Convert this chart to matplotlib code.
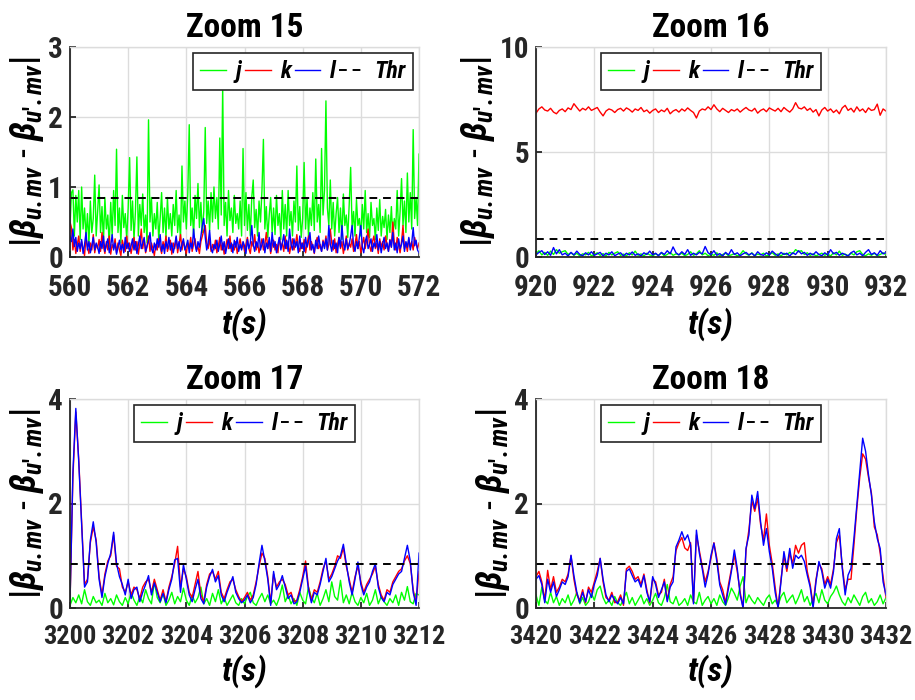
import numpy as np
import matplotlib
matplotlib.use("Agg")
import matplotlib.pyplot as plt
from matplotlib.lines import Line2D

FONT = ["Roboto Condensed", "Archivo Narrow", "DejaVu Sans"]
plt.rcParams["font.family"] = FONT
plt.rcParams["font.weight"] = "bold"
plt.rcParams["mathtext.fontset"] = "custom"
plt.rcParams["mathtext.it"] = "Roboto Condensed:italic:bold"
plt.rcParams["mathtext.rm"] = "Roboto Condensed:bold"
plt.rcParams["mathtext.bf"] = "Roboto Condensed:bold"

GREEN, RED, BLUE = "#00ff00", "#ff0000", "#0000ff"
THR = 0.85

# ---- Zoom 15 : 560-572 s, 0.05 s samples ----
z15_j = [
    0.45, 0.92, 0.96, 0.30, 0.88, 0.50, 0.95, 0.25, 1.00, 0.40, 0.70, 0.28, 0.62, 0.18, 0.80, 0.35, 0.55, 1.17, 0.30, 0.65,
    1.03, 0.35, 0.72, 0.22, 0.85, 0.40, 0.60, 0.15, 0.78, 0.30, 0.95, 0.45, 1.54, 0.35, 0.70, 0.20, 0.88, 0.42, 0.62, 0.25,
    0.70, 1.42, 0.38, 0.80, 0.25, 0.65, 1.43, 0.30, 0.75, 0.45, 0.90, 0.35, 0.60, 0.20, 1.96, 0.50, 0.85, 0.30, 0.62, 0.40,
    0.78, 0.25, 0.55, 0.92, 0.35, 0.70, 0.28, 0.85, 0.40, 0.62, 0.30, 0.75, 0.45, 0.95, 0.35, 0.60, 0.25, 1.30, 0.50, 0.80,
    0.40, 0.90, 1.89, 0.45, 0.70, 0.30, 0.88, 0.55, 1.05, 0.42, 0.78, 0.35, 0.65, 1.85, 0.48, 0.80, 0.38, 0.92, 0.50, 1.00,
    0.55, 0.85, 0.40, 1.70, 0.60, 2.43, 0.45, 0.78, 0.30, 0.95, 0.52, 0.70, 0.35, 0.88, 0.48, 0.62, 0.40, 0.80, 0.30, 1.55,
    0.45, 0.92, 0.38, 0.75, 0.30, 0.85, 1.10, 0.42, 0.68, 0.30, 0.80, 0.50, 0.95, 1.68, 0.40, 0.72, 0.28, 0.60, 0.85, 0.35,
    0.70, 0.32, 0.88, 0.45, 0.62, 0.25, 0.95, 0.40, 0.75, 0.30, 0.95, 0.45, 0.65, 0.30, 0.80, 0.50, 1.30, 0.38, 0.72, 0.28,
    0.55, 1.35, 0.40, 0.85, 0.30, 0.70, 0.45, 0.92, 0.38, 1.40, 0.50, 0.75, 0.35, 1.55, 0.60, 0.95, 2.23, 0.70, 0.45, 1.10,
    0.40, 0.78, 0.30, 0.62, 0.85, 0.35, 0.70, 0.25, 0.90, 0.45, 0.60, 0.28, 0.75, 1.28, 0.40, 0.65, 0.30, 0.82, 0.45, 0.55,
    0.30, 0.75, 0.40, 0.95, 0.35, 0.62, 0.28, 0.78, 0.45, 0.55, 0.25, 0.70, 0.38, 0.82, 0.30, 0.58, 0.42, 0.68, 0.25, 0.60,
    0.35, 0.72, 0.28, 0.55, 0.40, 0.95, 0.30, 0.65, 1.12, 0.45, 0.80, 0.35, 1.20, 0.50, 0.92, 0.40, 1.82, 0.55, 0.85, 0.45,
    1.47,
]
z15_k = [
    0.50, 0.42, 0.10, 0.25, 0.05, 0.18, 0.30, 0.08, 0.22, 0.12, 0.02, 0.28, 0.15, 0.05, 0.20, 0.10, 0.32, 0.06, 0.18, 0.12,
    0.25, 0.08, 0.35, 0.15, 0.05, 0.22, 0.10, 0.30, 0.04, 0.18, 0.12, 0.26, 0.06, 0.20, 0.10, 0.02, 0.24, 0.14, 0.08, 0.30,
    0.12, 0.20, 0.05, 0.16, 0.28, 0.10, 0.22, 0.04, 0.18, 0.40, 0.12, 0.25, 0.06, 0.15, 0.30, 0.08, 0.20, 0.12, 0.02, 0.18,
    0.10, 0.26, 0.14, 0.05, 0.22, 0.12, 0.30, 0.08, 0.16, 0.24, 0.04, 0.20, 0.12, 0.28, 0.06, 0.18, 0.32, 0.10, 0.22, 0.14,
    0.05, 0.20, 0.12, 0.28, 0.08, 0.18, 0.26, 0.10, 0.15, 0.05, 0.22, 0.30, 0.38, 0.45, 0.20, 0.12, 0.26, 0.08, 0.18, 0.10,
    0.24, 0.06, 0.16, 0.28, 0.10, 0.20, 0.04, 0.14, 0.25, 0.12, 0.30, 0.08, 0.18, 0.10, 0.22, 0.05, 0.16, 0.26, 0.12, 0.20,
    0.08, 0.18, 0.28, 0.12, 0.05, 0.22, 0.15, 0.32, 0.10, 0.20, 0.06, 0.16, 0.26, 0.10, 0.18, 0.35, 0.12, 0.22, 0.05, 0.16,
    0.24, 0.10, 0.18, 0.06, 0.28, 0.14, 0.20, 0.08, 0.30, 0.12, 0.22, 0.05, 0.16, 0.26, 0.10, 0.18, 0.32, 0.14, 0.08, 0.20,
    0.12, 0.25, 0.06, 0.18, 0.30, 0.10, 0.22, 0.14, 0.05, 0.20, 0.28, 0.12, 0.18, 0.08, 0.24, 0.14, 0.30, 0.10, 0.18, 0.40,
    0.20, 0.10, 0.26, 0.06, 0.18, 0.28, 0.12, 0.22, 0.05, 0.16, 0.30, 0.10, 0.20, 0.14, 0.26, 0.08, 0.18, 0.32, 0.12, 0.22,
    0.06, 0.18, 0.28, 0.12, 0.24, 0.40, 0.16, 0.08, 0.22, 0.30, 0.12, 0.20, 0.05, 0.26, 0.14, 0.22, 0.10, 0.30, 0.18, 0.08,
    0.25, 0.14, 0.50, 0.20, 0.10, 0.28, 0.16, 0.06, 0.22, 0.45, 0.12, 0.20, 0.08, 0.26, 0.14, 0.22, 0.10, 0.28, 0.18, 0.12,
    0.20,
]
z15_l = [
    0.30, 0.22, 0.40, 0.15, 0.28, 0.08, 0.20, 0.12, 0.25, 0.05, 0.18, 0.35, 0.10, 0.22, 0.06, 0.16, 0.28, 0.10, 0.20, 0.14,
    0.05, 0.22, 0.12, 0.30, 0.08, 0.18, 0.26, 0.06, 0.16, 0.32, 0.10, 0.20, 0.04, 0.14, 0.24, 0.10, 0.18, 0.06, 0.28, 0.12,
    0.20, 0.08, 0.16, 0.26, 0.10, 0.22, 0.05, 0.18, 0.30, 0.12, 0.20, 0.28, 0.08, 0.16, 0.22, 0.35, 0.12, 0.06, 0.20, 0.10,
    0.26, 0.14, 0.32, 0.08, 0.18, 0.05, 0.22, 0.12, 0.28, 0.10, 0.20, 0.06, 0.16, 0.30, 0.12, 0.22, 0.08, 0.18, 0.26, 0.10,
    0.16, 0.24, 0.06, 0.20, 0.12, 0.40, 0.18, 0.08, 0.22, 0.14, 0.30, 0.45, 0.55, 0.28, 0.10, 0.20, 0.38, 0.12, 0.06, 0.18,
    0.12, 0.24, 0.08, 0.18, 0.30, 0.10, 0.22, 0.05, 0.16, 0.26, 0.12, 0.20, 0.06, 0.24, 0.14, 0.28, 0.08, 0.18, 0.10, 0.22,
    0.16, 0.05, 0.25, 0.12, 0.20, 0.45, 0.18, 0.08, 0.22, 0.14, 0.35, 0.10, 0.18, 0.26, 0.06, 0.20, 0.12, 0.28, 0.08, 0.35,
    0.14, 0.22, 0.06, 0.18, 0.28, 0.10, 0.20, 0.32, 0.12, 0.24, 0.08, 0.40, 0.18, 0.10, 0.26, 0.14, 0.22, 0.06, 0.30, 0.12,
    0.20, 0.08, 0.28, 0.14, 0.22, 0.35, 0.10, 0.18, 0.06, 0.24, 0.12, 0.30, 0.16, 0.08, 0.22, 0.12, 0.26, 0.10, 0.45, 0.18,
    0.08, 0.24, 0.12, 0.20, 0.06, 0.28, 0.14, 0.45, 0.20, 0.10, 0.26, 0.12, 0.18, 0.30, 0.45, 0.16, 0.08, 0.22, 0.12, 0.28,
    0.45, 0.14, 0.06, 0.22, 0.30, 0.12, 0.18, 0.26, 0.08, 0.20, 0.14, 0.32, 0.10, 0.22, 0.06, 0.18, 0.28, 0.12, 0.20, 0.08,
    0.24, 0.14, 0.35, 0.10, 0.20, 0.06, 0.26, 0.12, 0.18, 0.30, 0.08, 0.22, 0.14, 0.28, 0.10, 0.20, 0.42, 0.16, 0.24, 0.10,
    0.06,
]

# ---- Zoom 16 : 920-932 s, 0.1 s samples ----
z16_j = [
    0.15, 0.30, 0.10, 0.22, 0.08, 0.28, 0.12, 0.35, 0.18, 0.25,
    0.30, 0.12, 0.20, 0.08, 0.18, 0.05, 0.15, 0.10, 0.22, 0.06,
    0.12, 0.20, 0.08, 0.16, 0.05, 0.22, 0.10, 0.18, 0.25, 0.08,
    0.14, 0.06, 0.20, 0.10, 0.28, 0.08, 0.15, 0.05, 0.18, 0.10,
    0.06, 0.15, 0.08, 0.20, 0.05, 0.12, 0.22, 0.08, 0.15, 0.10,
    0.18, 0.06, 0.12, 0.25, 0.08, 0.15, 0.30, 0.10, 0.18, 0.06,
    0.14, 0.08, 0.20, 0.05, 0.12, 0.18, 0.06, 0.10, 0.16, 0.05,
    0.12, 0.30, 0.15, 0.08, 0.20, 0.06, 0.14, 0.10, 0.18, 0.05,
    0.12, 0.20, 0.08, 0.15, 0.05, 0.18, 0.10, 0.22, 0.15, 0.35,
    0.25, 0.30, 0.12, 0.20, 0.08, 0.15, 0.05, 0.12, 0.18, 0.08,
    0.15, 0.05, 0.20, 0.10, 0.28, 0.08, 0.14, 0.06, 0.18, 0.10,
    0.25, 0.30, 0.12, 0.06, 0.15, 0.08, 0.18, 0.05, 0.12, 0.20,
    0.10,
]
z16_k = [
    6.85, 7.05, 7.15, 7.00, 6.95, 7.08, 6.90, 6.82, 6.98, 7.05,
    6.92, 7.10, 7.02, 7.30, 7.12, 6.95, 7.08, 7.00, 7.15, 6.98,
    7.05, 7.12, 6.90, 6.72, 6.95, 7.05, 7.00, 6.88, 7.02, 7.08,
    6.95, 7.10, 7.02, 6.90, 7.05, 6.98, 7.12, 6.92, 7.00, 6.85,
    6.98, 7.05, 6.88, 7.00, 6.92, 7.08, 6.82, 6.95, 7.02, 6.90,
    7.05, 6.95, 7.10, 6.98, 6.88, 6.62, 6.95, 7.05, 7.00, 7.15,
    7.02, 7.25, 7.05, 6.92, 7.08, 6.98, 6.88, 7.02, 6.95, 7.05,
    6.90, 7.02, 7.12, 7.00, 6.95, 7.08, 6.85, 6.98, 7.05, 6.92,
    7.10, 7.02, 6.95, 7.08, 6.92, 7.12, 7.00, 6.90, 7.05, 7.35,
    7.10, 7.05, 7.15, 6.98, 7.08, 6.90, 7.02, 6.72, 7.00, 7.12,
    6.95, 7.05, 6.88, 7.00, 6.82, 7.10, 7.22, 6.98, 7.08, 6.90,
    7.15, 6.95, 7.05, 6.88, 7.10, 6.98, 7.02, 7.28, 6.75, 7.05,
    6.95,
]
z16_l = [
    0.10, 0.22, 0.30, 0.12, 0.25, 0.08, 0.45, 0.15, 0.35, 0.10,
    0.18, 0.05, 0.22, 0.10, 0.28, 0.12, 0.06, 0.20, 0.10, 0.25,
    0.08, 0.15, 0.22, 0.05, 0.18, 0.10, 0.25, 0.06, 0.14, 0.20,
    0.05, 0.18, 0.10, 0.24, 0.08, 0.15, 0.05, 0.20, 0.12, 0.28,
    0.10, 0.18, 0.06, 0.22, 0.12, 0.30, 0.15, 0.48, 0.20, 0.10,
    0.25, 0.12, 0.35, 0.08, 0.18, 0.10, 0.22, 0.15, 0.50, 0.20,
    0.12, 0.30, 0.08, 0.16, 0.05, 0.22, 0.10, 0.35, 0.12, 0.20,
    0.06, 0.15, 0.22, 0.10, 0.18, 0.05, 0.25, 0.12, 0.08, 0.20,
    0.10, 0.28, 0.15, 0.06, 0.22, 0.12, 0.18, 0.05, 0.20, 0.12,
    0.30, 0.15, 0.22, 0.08, 0.18, 0.10, 0.25, 0.12, 0.06, 0.20,
    0.10, 0.35, 0.15, 0.22, 0.08, 0.18, 0.12, 0.05, 0.20, 0.28,
    0.10, 0.18, 0.06, 0.22, 0.35, 0.12, 0.20, 0.08, 0.30, 0.15,
    0.22,
]

# ---- Zoom 17 : 3200-3212 s, 0.1 s samples ----
z17_j = [
    0.05, 0.20, 0.10, 0.25, 0.08, 0.35, 0.12, 0.05, 0.22, 0.10,
    0.15, 0.05, 0.28, 0.10, 0.18, 0.06, 0.25, 0.12, 0.05, 0.20,
    0.08, 0.30, 0.15, 0.05, 0.22, 0.10, 0.35, 0.18, 0.08, 0.50,
    0.20, 0.10, 0.28, 0.05, 0.15, 0.30, 0.08, 0.22, 0.12, 0.38,
    0.15, 0.05, 0.25, 0.10, 0.20, 0.40, 0.08, 0.18, 0.05, 0.28,
    0.12, 0.35, 0.08, 0.20, 0.05, 0.15, 0.25, 0.10, 0.05, 0.18,
    0.08, 0.22, 0.30, 0.10, 0.05, 0.18, 0.28, 0.12, 0.25, 0.08,
    0.15, 0.05, 0.20, 0.44, 0.12, 0.25, 0.08, 0.18, 0.05, 0.30,
    0.15, 0.08, 0.40, 0.20, 0.10, 0.28, 0.05, 0.18, 0.35, 0.12,
    0.50, 0.22, 0.15, 0.53, 0.10, 0.25, 0.08, 0.30, 0.12, 0.05,
    0.20, 0.10, 0.28, 0.05, 0.15, 0.35, 0.08, 0.22, 0.12, 0.05,
    0.18, 0.10, 0.25, 0.05, 0.30, 0.15, 0.41, 0.12, 0.08, 0.28,
    0.25,
]
z17_k = [
    0.10, 2.50, 3.75, 2.85, 1.65, 0.45, 0.55, 1.25, 1.55, 1.30,
    0.60, 0.25, 0.65, 0.90, 1.00, 1.40, 0.80, 0.75, 0.40, 0.30,
    0.50, 0.25, 0.40, 0.35, 0.18, 0.40, 0.50, 0.55, 0.30, 0.55,
    0.35, 0.15, 0.35, 0.12, 0.40, 0.60, 0.85, 1.18, 0.40, 0.75,
    0.60, 0.30, 0.20, 0.45, 0.70, 0.25, 0.12, 0.45, 0.65, 0.70,
    0.55, 0.70, 0.30, 0.18, 0.35, 0.50, 0.55, 0.35, 0.22, 0.12,
    0.20, 0.30, 0.15, 0.25, 0.50, 0.80, 1.05, 0.95, 0.60, 0.10,
    0.65, 0.40, 0.50, 0.55, 0.45, 0.25, 0.30, 0.12, 0.15, 0.35,
    0.60, 0.90, 0.40, 0.15, 0.35, 0.30, 0.50, 0.75, 0.90, 0.55,
    0.65, 0.80, 1.00, 0.95, 1.15, 0.80, 0.55, 0.30, 0.60, 0.80,
    0.50, 0.30, 0.45, 0.55, 0.65, 0.80, 0.45, 0.25, 0.15, 0.35,
    0.30, 0.50, 0.60, 0.70, 0.75, 0.90, 1.00, 0.85, 0.35, 0.10,
    0.70,
]
z17_l = [
    0.10, 2.60, 3.82, 2.80, 1.60, 0.40, 0.50, 1.30, 1.65, 1.25,
    0.55, 0.20, 0.60, 0.85, 1.05, 1.45, 0.85, 0.60, 0.45, 0.25,
    0.55, 0.18, 0.35, 0.40, 0.12, 0.30, 0.45, 0.62, 0.25, 0.48,
    0.30, 0.12, 0.28, 0.10, 0.35, 0.55, 0.92, 0.95, 0.30, 0.83,
    0.55, 0.25, 0.12, 0.35, 0.55, 0.18, 0.08, 0.40, 0.60, 0.74,
    0.50, 0.62, 0.25, 0.12, 0.30, 0.45, 0.60, 0.30, 0.18, 0.10,
    0.15, 0.25, 0.10, 0.20, 0.45, 0.85, 1.20, 0.90, 0.55, 0.05,
    0.70, 0.35, 0.45, 0.62, 0.40, 0.18, 0.25, 0.08, 0.12, 0.30,
    0.55, 0.80, 0.35, 0.10, 0.30, 0.25, 0.45, 0.70, 0.95, 0.50,
    0.60, 0.75, 0.90, 1.00, 1.22, 0.85, 0.50, 0.25, 0.55, 0.88,
    0.45, 0.25, 0.40, 0.50, 0.70, 0.85, 0.40, 0.20, 0.12, 0.30,
    0.25, 0.45, 0.55, 0.65, 0.70, 0.95, 1.20, 0.90, 0.30, 0.05,
    1.05,
]

# ---- Zoom 18 : 3420-3432 s, 0.1 s samples ----
z18_j = [
    0.25, 0.05, 0.40, 0.15, 0.08, 0.30, 0.10, 0.22, 0.05, 0.18,
    0.10, 0.25, 0.05, 0.15, 0.30, 0.08, 0.20, 0.05, 0.12, 0.28,
    0.15, 0.35, 0.42, 0.20, 0.08, 0.15, 0.05, 0.22, 0.10, 0.05,
    0.18, 0.30, 0.08, 0.20, 0.05, 0.15, 0.25, 0.08, 0.18, 0.05,
    0.15, 0.28, 0.10, 0.05, 0.20, 0.45, 0.12, 0.08, 0.22, 0.05,
    0.10, 0.18, 0.05, 0.25, 0.12, 0.08, 0.30, 0.05, 0.15, 0.22,
    0.08, 0.18, 0.05, 0.25, 0.12, 0.05, 0.20, 0.38, 0.28, 0.15,
    0.42, 0.60, 0.10, 0.25, 0.15, 0.08, 0.20, 0.12, 0.05, 0.18,
    0.25, 0.08, 0.15, 0.05, 0.22, 0.30, 0.10, 0.18, 0.25, 0.08,
    0.20, 0.35, 0.12, 0.22, 0.05, 0.18, 0.28, 0.10, 0.35, 0.15,
    0.08, 0.22, 0.30, 0.42, 0.25, 0.12, 0.05, 0.20, 0.10, 0.25,
    0.15, 0.05, 0.22, 0.30, 0.10, 0.18, 0.05, 0.12, 0.25, 0.08,
    0.20,
]
z18_k = [
    0.60, 0.70, 0.50, 0.15, 0.72, 0.35, 0.60, 0.30, 0.40, 0.55,
    0.50, 0.65, 1.00, 0.55, 0.25, 0.15, 0.35, 0.10, 0.40, 0.30,
    0.50, 0.70, 0.95, 0.50, 0.20, 0.15, 0.30, 0.10, 0.12, 0.25,
    0.05, 0.75, 0.80, 0.70, 0.55, 0.60, 0.45, 0.65, 0.35, 0.10,
    0.55, 0.50, 0.25, 0.30, 0.55, 0.15, 0.45, 0.60, 1.10, 1.25,
    1.35, 1.15, 1.10, 1.25, 0.10, 1.40, 1.10, 0.80, 0.50, 0.70,
    0.95, 1.25, 0.95, 0.50, 0.35, 0.10, 0.45, 0.75, 1.00, 0.70,
    0.30, 0.00, 1.10, 1.50, 2.05, 1.85, 2.10, 1.60, 1.30, 1.80,
    1.20, 0.85, 0.40, 0.00, 0.55, 1.00, 0.70, 1.05, 0.85, 1.20,
    1.05, 1.20, 1.25, 0.70, 0.45, 0.05, 0.55, 0.85, 0.75, 0.45,
    0.60, 0.45, 0.75, 1.25, 1.40, 0.80, 0.35, 0.55, 0.55, 1.20,
    1.90, 2.50, 2.95, 2.85, 2.50, 2.20, 1.55, 1.40, 1.05, 0.60,
    0.20,
]
z18_l = [
    0.55, 0.62, 0.45, 0.10, 0.55, 0.30, 0.50, 0.22, 0.35, 0.50,
    0.45, 0.60, 1.01, 0.62, 0.30, 0.10, 0.30, 0.12, 0.35, 0.20,
    0.45, 0.62, 0.95, 0.55, 0.25, 0.12, 0.25, 0.15, 0.08, 0.20,
    0.08, 0.70, 0.75, 0.62, 0.50, 0.55, 0.40, 0.62, 0.30, 0.12,
    0.60, 0.45, 0.20, 0.35, 0.50, 0.12, 0.40, 0.50, 1.17, 1.30,
    1.46, 1.30, 1.40, 1.20, 0.08, 1.49, 1.05, 0.75, 0.40, 0.65,
    1.01, 1.24, 0.89, 0.44, 0.25, 0.06, 0.38, 0.70, 1.11, 0.76,
    0.25, 0.00, 1.14, 1.40, 2.16, 1.90, 2.23, 1.65, 1.20, 1.52,
    1.08, 0.76, 0.30, 0.00, 0.50, 1.08, 0.76, 1.14, 0.76, 1.01,
    0.95, 1.01, 0.89, 0.63, 0.40, 0.00, 0.50, 0.89, 0.70, 0.38,
    0.55, 0.38, 0.70, 1.33, 1.52, 0.76, 0.25, 0.63, 0.76, 1.33,
    1.97, 2.61, 3.25, 3.00, 2.55, 2.16, 1.65, 1.33, 1.14, 0.50,
    0.25,
]

PANELS = [
    ("Zoom 15", (560, 572), [0, 1, 2, 3], (z15_j, z15_k, z15_l), "upper right"),
    ("Zoom 16", (920, 932), [0, 5, 10], (z16_j, z16_k, z16_l), "upper center"),
    ("Zoom 17", (3200, 3212), [0, 2, 4], (z17_j, z17_k, z17_l), "upper center"),
    ("Zoom 18", (3420, 3432), [0, 2, 4], (z18_j, z18_k, z18_l), "upper center"),
]

# axes rectangles in pixels: left, top, width, height
RECTS = [(70, 47, 349, 210), (536, 47, 350, 210), (70, 399, 349, 209), (536, 399, 350, 209)]

W, H = 915, 700
fig = plt.figure(figsize=(W / 100, H / 100), dpi=100)

YLABEL = r"$|\beta_{u.mv}$ - $\beta_{u\text{'}.mv}|$"

for (title, (t0, t1), yticks, series, loc), (px, py, pw, ph) in zip(PANELS, RECTS):
    ax = fig.add_axes([px / W, 1 - (py + ph) / H, pw / W, ph / H])
    for vals, col in zip(series, (GREEN, RED, BLUE)):
        t = np.linspace(t0, t1, len(vals))
        ax.plot(t, vals, color=col, lw=1.0)
    ax.axhline(THR, color="black", ls=(0, (4, 3)), lw=1.4)

    ax.set_xlim(t0, t1)
    ax.set_ylim(yticks[0], yticks[-1])
    ax.set_xticks(np.arange(t0, t1 + 1, 2))
    ax.set_yticks(yticks)
    ax.grid(True, color="#dcdcdc", lw=1.0)
    ax.set_axisbelow(True)
    for side in ("top", "right"):
        ax.spines[side].set_color("#dcdcdc")
        ax.spines[side].set_linewidth(1.0)
    for side in ("left", "bottom"):
        ax.spines[side].set_color("#262626")
        ax.spines[side].set_linewidth(1.3)
    ax.tick_params(direction="in", length=4, width=1.3, color="#262626",
                   labelsize=21, labelcolor="#262626", top=False, right=False)
    # four-digit time labels need a slightly smaller size to keep apart
    xfs = 21 if t1 < 1000 else 19
    ax.tick_params(axis="x", pad=12, labelsize=xfs)
    ax.tick_params(axis="y", pad=5)

    ax.set_title(title, fontsize=24, fontweight="bold", pad=7)
    ax.set_xlabel("t(s)", fontsize=24, fontweight="bold", style="italic", labelpad=4)
    ax.set_ylabel(YLABEL, fontsize=26, labelpad=2)

    handles = [
        Line2D([], [], color=GREEN, lw=1.0),
        Line2D([], [], color=RED, lw=1.0),
        Line2D([], [], color=BLUE, lw=1.0),
        Line2D([], [], color="black", ls=(0, (4, 3)), lw=1.4),
    ]
    leg = ax.legend(handles, ["j", "k", "l", "Thr"], loc=loc, ncol=4,
                    prop=dict(family=FONT, weight="bold", style="italic", size=17),
                    handlelength=1.1, handletextpad=0.4, columnspacing=0.15,
                    borderpad=0.3, borderaxespad=0.25, fancybox=False, framealpha=1)
    leg.get_frame().set_edgecolor("#262626")
    leg.get_frame().set_linewidth(1.2)

fig.savefig("out.png", dpi=100)
